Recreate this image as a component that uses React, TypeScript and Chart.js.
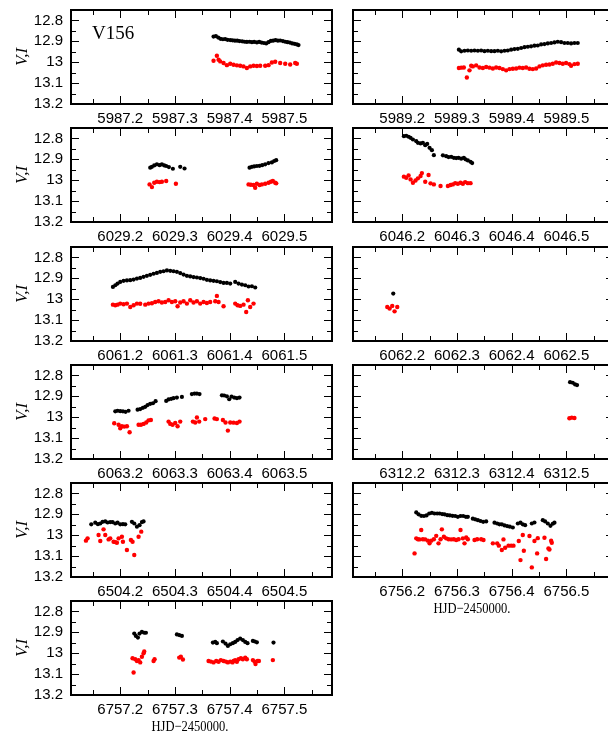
import React, { useEffect, useRef } from "react";
import { Chart, registerables } from "chart.js";
Chart.register(...registerables);

// ---------- data (HJD-2450000, magnitudes) ----------
const vT5987 = [5987.3705,5987.3748,5987.3791,5987.3833,5987.3876,5987.3918,5987.3961,5987.4010,5987.4052,5987.4095,5987.4138,5987.4180,5987.4229,5987.4272,5987.4314,5987.4363,5987.4406,5987.4448,5987.4497,5987.4540,5987.4582,5987.4625,5987.4667,5987.4710,5987.4753,5987.4795,5987.4838,5987.4881,5987.4923,5987.4972,5987.5015,5987.5057,5987.5100,5987.5143,5987.5185,5987.5228,5987.5258];
const vM5987 = [12.877,12.875,12.882,12.888,12.890,12.889,12.893,12.894,12.895,12.897,12.897,12.899,12.900,12.902,12.903,12.902,12.904,12.903,12.905,12.903,12.906,12.908,12.910,12.904,12.898,12.897,12.894,12.897,12.896,12.899,12.902,12.904,12.906,12.910,12.912,12.915,12.918];
const iT5987 = [5987.3705,5987.3766,5987.3797,5987.3827,5987.3888,5987.3949,5987.4010,5987.4071,5987.4132,5987.4192,5987.4253,5987.4314,5987.4375,5987.4436,5987.4497,5987.4558,5987.4649,5987.4710,5987.4771,5987.4832,5987.4923,5987.5015,5987.5106,5987.5197,5987.5228];
const iM5987 = [12.993,12.969,12.988,12.996,13.004,13.014,13.007,13.012,13.015,13.017,13.020,13.028,13.020,13.017,13.018,13.017,13.017,13.014,13.001,12.998,13.004,13.007,13.011,13.004,13.007];

const vT5989 = [5989.3035,5989.3077,5989.3138,5989.3199,5989.3260,5989.3321,5989.3382,5989.3442,5989.3503,5989.3564,5989.3625,5989.3686,5989.3747,5989.3808,5989.3869,5989.3929,5989.3990,5989.4051,5989.4112,5989.4173,5989.4234,5989.4295,5989.4355,5989.4416,5989.4477,5989.4538,5989.4599,5989.4660,5989.4721,5989.4782,5989.4842,5989.4903,5989.4964,5989.5025,5989.5086,5989.5147,5989.5208];
const vM5989 = [12.940,12.948,12.945,12.944,12.945,12.944,12.945,12.944,12.947,12.945,12.947,12.947,12.945,12.948,12.945,12.944,12.940,12.937,12.936,12.932,12.928,12.926,12.924,12.921,12.920,12.915,12.913,12.910,12.908,12.905,12.902,12.904,12.908,12.908,12.910,12.908,12.908];
const iT5989 = [5989.3035,5989.3077,5989.3126,5989.3181,5989.3229,5989.3260,5989.3290,5989.3351,5989.3412,5989.3473,5989.3534,5989.3595,5989.3656,5989.3716,5989.3777,5989.3838,5989.3899,5989.3960,5989.4021,5989.4082,5989.4142,5989.4203,5989.4264,5989.4325,5989.4386,5989.4447,5989.4508,5989.4568,5989.4629,5989.4690,5989.4751,5989.4812,5989.4873,5989.4934,5989.4994,5989.5055,5989.5086,5989.5147,5989.5208];
const iM5989 = [13.028,13.026,13.025,13.073,13.039,13.017,13.020,13.015,13.025,13.028,13.023,13.026,13.030,13.025,13.028,13.033,13.039,13.033,13.031,13.030,13.026,13.028,13.025,13.031,13.033,13.030,13.020,13.015,13.012,13.011,13.007,13.001,13.004,13.007,13.004,13.009,13.017,13.009,13.007];

const vT6029 = [6029.2548,6029.2579,6029.2621,6029.2670,6029.2719,6029.2761,6029.2804,6029.2840,6029.2889,6029.2962,6029.3096,6029.3175,6029.4363,6029.4406,6029.4448,6029.4497,6029.4546,6029.4594,6029.4649,6029.4710,6029.4771,6029.4814,6029.4850];
const vM6029 = [12.940,12.936,12.929,12.924,12.928,12.924,12.929,12.932,12.937,12.945,12.936,12.944,12.940,12.936,12.934,12.932,12.931,12.928,12.924,12.918,12.915,12.908,12.904];
const iT6029 = [6029.2536,6029.2579,6029.2621,6029.2670,6029.2719,6029.2761,6029.2840,6029.3017,6029.4345,6029.4387,6029.4436,6029.4466,6029.4497,6029.4546,6029.4588,6029.4649,6029.4710,6029.4753,6029.4789,6029.4832,6029.4850];
const iM6029 = [13.020,13.033,13.012,13.007,13.009,13.007,13.004,13.017,13.020,13.022,13.023,13.036,13.017,13.023,13.020,13.017,13.012,13.007,13.004,13.012,13.015];

const vT6046 = [6046.2030,6046.2073,6046.2116,6046.2152,6046.2195,6046.2256,6046.2286,6046.2335,6046.2377,6046.2420,6046.2456,6046.2499,6046.2542,6046.2578,6046.2743,6046.2803,6046.2846,6046.2895,6046.2943,6046.2986,6046.3029,6046.3077,6046.3126,6046.3156,6046.3199,6046.3248,6046.3278];
const vM6046 = [12.789,12.787,12.792,12.797,12.805,12.813,12.821,12.824,12.821,12.832,12.826,12.845,12.856,12.880,12.881,12.885,12.889,12.888,12.893,12.894,12.893,12.897,12.893,12.900,12.905,12.912,12.918];
const iT6046 = [6046.2030,6046.2073,6046.2116,6046.2152,6046.2195,6046.2243,6046.2286,6046.2335,6046.2359,6046.2420,6046.2481,6046.2517,6046.2578,6046.2700,6046.2834,6046.2883,6046.2925,6046.2968,6046.3016,6046.3065,6046.3108,6046.3150,6046.3199,6046.3248];
const iM6046 = [12.983,12.988,12.977,12.996,13.012,13.001,12.991,12.980,12.966,13.007,12.975,13.015,13.020,13.028,13.028,13.023,13.020,13.014,13.017,13.012,13.017,13.009,13.014,13.014];

const vT6061 = [6061.1866,6061.1909,6061.1951,6061.2000,6061.2061,6061.2122,6061.2183,6061.2244,6061.2305,6061.2365,6061.2426,6061.2487,6061.2548,6061.2609,6061.2670,6061.2731,6061.2792,6061.2853,6061.2914,6061.2974,6061.3035,6061.3096,6061.3157,6061.3218,6061.3279,6061.3340,6061.3401,6061.3462,6061.3523,6061.3583,6061.3644,6061.3705,6061.3766,6061.3827,6061.3888,6061.3949,6061.4010,6061.4101,6061.4162,6061.4223,6061.4284,6061.4345,6061.4406,6061.4467];
const vM6061 = [12.941,12.933,12.925,12.917,12.912,12.910,12.909,12.906,12.901,12.898,12.893,12.888,12.883,12.878,12.874,12.869,12.866,12.862,12.864,12.866,12.869,12.875,12.882,12.888,12.891,12.894,12.896,12.899,12.902,12.907,12.910,12.912,12.914,12.918,12.922,12.922,12.925,12.917,12.925,12.930,12.933,12.939,12.938,12.944];
const iT6061 = [6061.1866,6061.1909,6061.1951,6061.2000,6061.2061,6061.2122,6061.2183,6061.2244,6061.2305,6061.2365,6061.2457,6061.2518,6061.2579,6061.2639,6061.2700,6061.2761,6061.2822,6061.2883,6061.2944,6061.3005,6061.3048,6061.3096,6061.3157,6061.3218,6061.3279,6061.3340,6061.3401,6061.3462,6061.3523,6061.3583,6061.3644,6061.3736,6061.3766,6061.3797,6061.3888,6061.4101,6061.4144,6061.4192,6061.4253,6061.4302,6061.4333,6061.4375,6061.4436];
const iM6061 = [13.026,13.029,13.026,13.021,13.024,13.021,13.037,13.029,13.021,13.022,13.026,13.021,13.019,13.013,13.010,13.016,13.013,13.005,13.013,13.010,13.034,13.016,13.010,13.021,13.005,13.016,13.010,13.021,13.013,13.018,13.013,13.010,12.984,13.013,13.034,13.021,13.029,13.032,13.026,13.061,13.005,13.037,13.021];

const vT6062 = [6062.1836];
const vM6062 = [12.973];
const iT6062 = [6062.1726,6062.1769,6062.1817,6062.1860,6062.1909];
const iM6062 = [13.037,13.045,13.032,13.058,13.037];

const vT6063 = [6063.1909,6063.1951,6063.2000,6063.2049,6063.2097,6063.2152,6063.2317,6063.2365,6063.2414,6063.2457,6063.2499,6063.2548,6063.2597,6063.2646,6063.2840,6063.2883,6063.2932,6063.2974,6063.3035,6063.3127,6063.3309,6063.3358,6063.3401,6063.3449,6063.3858,6063.3900,6063.3949,6063.3991,6063.4034,6063.4083,6063.4132,6063.4180];
const vM6063 = [12.972,12.969,12.971,12.972,12.974,12.969,12.964,12.961,12.955,12.950,12.942,12.936,12.933,12.923,12.922,12.915,12.912,12.909,12.906,12.903,12.889,12.887,12.887,12.889,12.895,12.896,12.900,12.914,12.901,12.906,12.909,12.906];
const iT6063 = [6063.1890,6063.1970,6063.2000,6063.2030,6063.2073,6063.2122,6063.2171,6063.2335,6063.2378,6063.2426,6063.2475,6063.2518,6063.2560,6063.2883,6063.2914,6063.2956,6063.3005,6063.3048,6063.3096,6063.3328,6063.3370,6063.3401,6063.3443,6063.3553,6063.3724,6063.3766,6063.3876,6063.3924,6063.3967,6063.4010,6063.4071,6063.4132,6063.4180];
const iM6063 = [13.029,13.036,13.053,13.043,13.045,13.043,13.072,13.036,13.036,13.032,13.025,13.015,13.013,13.021,13.032,13.036,13.028,13.043,13.021,13.021,13.025,13.001,13.021,13.009,13.006,13.009,13.013,13.025,13.064,13.025,13.026,13.028,13.021];

const vT6312 = [6312.5067,6312.5116,6312.5159,6312.5195];
const vM6312 = [12.832,12.835,12.843,12.846];
const iT6312 = [6312.5055,6312.5098,6312.5147];
const iM6312 = [13.005,13.002,13.004];

const vT6504 = [6504.1470,6504.1543,6504.1592,6504.1635,6504.1677,6504.1726,6504.1769,6504.1817,6504.1860,6504.1909,6504.1951,6504.2000,6504.2049,6504.2091,6504.2213,6504.2256,6504.2305,6504.2353,6504.2396,6504.2426];
const vM6504 = [12.948,12.940,12.947,12.944,12.936,12.934,12.939,12.937,12.937,12.944,12.940,12.948,12.947,12.948,12.936,12.944,12.959,12.952,12.937,12.934];
const iT6504 = [6504.1373,6504.1403,6504.1604,6504.1635,6504.1695,6504.1726,6504.1787,6504.1817,6504.1878,6504.1909,6504.1939,6504.1970,6504.2030,6504.2049,6504.2122,6504.2195,6504.2225,6504.2256,6504.2335,6504.2384];
const iM6504 = [13.026,13.015,12.999,13.028,12.972,12.999,13.020,13.015,13.031,13.033,13.036,13.015,13.007,13.031,13.071,13.023,13.031,13.095,13.007,12.983];

const vT6756 = [6756.2256,6756.2298,6756.2347,6756.2396,6756.2444,6756.2493,6756.2542,6756.2590,6756.2639,6756.2682,6756.2730,6756.2773,6756.2822,6756.2870,6756.2919,6756.2968,6756.3016,6756.3065,6756.3114,6756.3163,6756.3199,6756.3290,6756.3333,6756.3382,6756.3430,6756.3479,6756.3534,6756.3686,6756.3735,6756.3777,6756.3820,6756.3869,6756.3917,6756.3966,6756.4021,6756.4112,6756.4161,6756.4203,6756.4246,6756.4368,6756.4416,6756.4569,6756.4611,6756.4660,6756.4709,6756.4751,6756.4782];
const vM6756 = [12.891,12.900,12.907,12.908,12.905,12.896,12.893,12.896,12.896,12.896,12.899,12.900,12.904,12.905,12.907,12.908,12.912,12.908,12.908,12.912,12.912,12.921,12.924,12.928,12.932,12.936,12.934,12.940,12.944,12.948,12.948,12.953,12.956,12.959,12.963,12.944,12.940,12.948,12.952,12.944,12.939,12.928,12.934,12.944,12.955,12.945,12.940];
const iT6756 = [6756.2225,6756.2256,6756.2286,6756.2316,6756.2347,6756.2377,6756.2420,6756.2469,6756.2499,6756.2530,6756.2578,6756.2621,6756.2663,6756.2700,6756.2724,6756.2761,6756.2803,6756.2846,6756.2895,6756.2943,6756.2986,6756.3029,6756.3065,6756.3108,6756.3138,6756.3169,6756.3199,6756.3321,6756.3369,6756.3442,6756.3485,6756.3656,6756.3735,6756.3765,6756.3820,6756.3850,6756.3881,6756.3942,6756.3990,6756.4033,6756.4130,6756.4161,6756.4203,6756.4222,6756.4325,6756.4368,6756.4416,6756.4465,6756.4477,6756.4599,6756.4629,6756.4672,6756.4690,6756.4721,6756.4733];
const iM6756 = [13.087,13.015,13.019,13.020,12.975,13.019,13.020,13.026,13.039,13.026,13.019,13.003,13.039,13.019,12.972,13.007,13.015,13.019,13.020,13.019,13.023,13.019,12.975,13.015,13.039,13.011,13.019,13.023,13.019,13.019,13.023,13.039,13.039,13.050,13.071,13.020,13.060,13.050,13.050,13.050,13.028,13.119,12.999,13.074,13.004,13.154,13.028,13.087,13.014,13.012,13.114,13.063,13.068,13.026,13.036];

const vT6757 = [6757.2256,6757.2286,6757.2323,6757.2353,6757.2396,6757.2438,6757.2469,6757.3035,6757.3078,6757.3127,6757.3693,6757.3736,6757.3766,6757.3876,6757.3924,6757.3967,6757.4010,6757.4058,6757.4101,6757.4144,6757.4192,6757.4241,6757.4284,6757.4326,6757.4424,6757.4460,6757.4497,6757.4801];
const vM6757 = [12.906,12.917,12.925,12.906,12.898,12.902,12.902,12.910,12.913,12.917,12.949,12.946,12.952,12.944,12.954,12.965,12.957,12.952,12.946,12.937,12.930,12.937,12.946,12.952,12.941,12.944,12.948,12.949];
const iT6757 = [6757.2225,6757.2244,6757.2274,6757.2305,6757.2335,6757.2365,6757.2396,6757.2426,6757.2438,6757.2609,6757.2627,6757.3078,6757.3108,6757.3145,6757.3614,6757.3657,6757.3705,6757.3754,6757.3797,6757.3839,6757.3888,6757.3931,6757.3967,6757.4010,6757.4052,6757.4071,6757.4101,6757.4132,6757.4162,6757.4205,6757.4241,6757.4284,6757.4314,6757.4424,6757.4454,6757.4472,6757.4509,6757.4534,6757.4789];
const iM6757 = [13.024,13.092,13.029,13.037,13.033,13.044,13.017,13.000,12.992,13.037,13.029,13.021,13.017,13.030,13.037,13.040,13.044,13.037,13.041,13.033,13.037,13.040,13.044,13.040,13.044,13.037,13.033,13.041,13.029,13.024,13.029,13.021,13.029,13.033,13.040,13.052,13.037,13.037,13.033];

const yTickLabels = [12.8, 12.9, 13, 13.1, 13.2];
const yMinorTicks = [12.85, 12.95, 13.05, 13.15];
const xMajorOffsets = [0.2, 0.3, 0.4, 0.5];
const xMinorOffsets = [0.15, 0.25, 0.35, 0.45, 0.55];
const yTitle = "V,I";
const xTitle = "HJD\u22122450000.";
const starName = "V156";

// ---------- layout ----------
const ROW_TOPS = [10, 128, 247, 365, 483, 601];
const PLOT_H = 94;
const PLOT_W = 261;
const COL_LEFT = [71, 353];
const PAD_TOP = 20;
const X_AXIS_H = 50;
const CANVAS_H = PAD_TOP + PLOT_H + X_AXIS_H;

type PanelDef = {
  day: number; row: number; col: number;
  vt: number[]; vm: number[]; it: number[]; im: number[];
  name?: boolean; xlabel?: boolean;
};

const panels: PanelDef[] = [
  { day: 5987, row: 0, col: 0, vt: vT5987, vm: vM5987, it: iT5987, im: iM5987, name: true },
  { day: 5989, row: 0, col: 1, vt: vT5989, vm: vM5989, it: iT5989, im: iM5989 },
  { day: 6029, row: 1, col: 0, vt: vT6029, vm: vM6029, it: iT6029, im: iM6029 },
  { day: 6046, row: 1, col: 1, vt: vT6046, vm: vM6046, it: iT6046, im: iM6046 },
  { day: 6061, row: 2, col: 0, vt: vT6061, vm: vM6061, it: iT6061, im: iM6061 },
  { day: 6062, row: 2, col: 1, vt: vT6062, vm: vM6062, it: iT6062, im: iM6062 },
  { day: 6063, row: 3, col: 0, vt: vT6063, vm: vM6063, it: iT6063, im: iM6063 },
  { day: 6312, row: 3, col: 1, vt: vT6312, vm: vM6312, it: iT6312, im: iM6312 },
  { day: 6504, row: 4, col: 0, vt: vT6504, vm: vM6504, it: iT6504, im: iM6504 },
  { day: 6756, row: 4, col: 1, vt: vT6756, vm: vM6756, it: iT6756, im: iM6756, xlabel: true },
  { day: 6757, row: 5, col: 0, vt: vT6757, vm: vM6757, it: iT6757, im: iM6757, xlabel: true },
];

const TICK_FONT = { family: "'Liberation Sans', Arial, sans-serif", size: 15 };

function Panel({ p }: { p: PanelDef }) {
  const ref = useRef<HTMLCanvasElement | null>(null);
  const canvasLeft = p.col === 0 ? 0 : 338;
  const canvasW = p.col === 0 ? 338 : 290;
  const yAxisW = COL_LEFT[p.col] - canvasLeft;
  const padRight = canvasW - yAxisW - PLOT_W;
  const canvasTop = ROW_TOPS[p.row] - PAD_TOP;

  useEffect(() => {
    const day = p.day;
    const framePlugin = {
      id: "frame",
      afterDraw(chart: any) {
        const { ctx, chartArea: a, scales } = chart;
        const xs = scales.x, ys = scales.y;
        ctx.save();
        ctx.strokeStyle = "#000";
        ctx.lineWidth = 1;
        ctx.beginPath();
        const xt = [
          ...xMajorOffsets.map((o) => [day + o, 8]),
          ...xMinorOffsets.map((o) => [day + o, 5]),
        ];
        for (const [v, len] of xt) {
          const px = Math.round(xs.getPixelForValue(v)) + 0.5;
          ctx.moveTo(px, a.bottom); ctx.lineTo(px, a.bottom - len);
          ctx.moveTo(px, a.top); ctx.lineTo(px, a.top + len);
        }
        const yt = [
          ...yTickLabels.map((v) => [v, 8]),
          ...yMinorTicks.map((v) => [v, 5]),
        ];
        for (const [v, len] of yt) {
          const py = Math.round(ys.getPixelForValue(v)) + 0.5;
          ctx.moveTo(a.left, py); ctx.lineTo(a.left + len, py);
          ctx.moveTo(a.right, py); ctx.lineTo(a.right - len, py);
        }
        ctx.stroke();
        ctx.lineWidth = 2;
        ctx.strokeRect(a.left, a.top, a.right - a.left, a.bottom - a.top);
        ctx.fillStyle = "#000";
        if (p.name) {
          ctx.font = "19px 'Liberation Serif', serif";
          ctx.textAlign = "left";
          ctx.textBaseline = "alphabetic";
          ctx.fillText(starName, a.left + 21, a.top + 28.5);
        }
        if (p.xlabel) {
          ctx.font = "15px 'Liberation Serif', serif";
          ctx.textAlign = "center";
          ctx.textBaseline = "middle";
          ctx.fillText(xTitle, a.left + 119, a.bottom + 32, 77);
        }
        ctx.restore();
      },
    };

    const chart = new Chart(ref.current as HTMLCanvasElement, {
      type: "scatter",
      data: {
        datasets: [
          {
            label: "V",
            data: p.vt.map((t, i) => ({ x: t, y: p.vm[i] })),
            backgroundColor: "#000000",
            borderWidth: 0,
            pointRadius: 2.1,
            pointHoverRadius: 2.1,
          },
          {
            label: "I",
            data: p.it.map((t, i) => ({ x: t, y: p.im[i] })),
            backgroundColor: "#ff0000",
            borderWidth: 0,
            pointRadius: 2.2,
            pointHoverRadius: 2.2,
          },
        ],
      },
      options: {
        animation: false,
        responsive: false,
        devicePixelRatio: 1,
        events: [],
        layout: { padding: { top: PAD_TOP, right: padRight, bottom: 0, left: 0 } },
        plugins: { legend: { display: false }, tooltip: { enabled: false } },
        scales: {
          x: {
            type: "linear",
            min: day + 0.11,
            max: day + 0.587,
            afterBuildTicks: (s: any) => {
              s.ticks = xMajorOffsets.map((o) => ({ value: day + o }));
            },
            afterFit: (s: any) => { s.height = X_AXIS_H; },
            ticks: {
              autoSkip: false,
              maxRotation: 0,
              padding: 6,
              color: "#000",
              font: TICK_FONT,
              callback: (v: any) => Number(v).toFixed(1),
            },
            grid: { display: false, drawTicks: false, tickLength: 0 },
            border: { display: false },
          },
          y: {
            type: "linear",
            reverse: true,
            min: 12.75,
            max: 13.2,
            afterBuildTicks: (s: any) => {
              s.ticks = yTickLabels.map((v) => ({ value: v }));
            },
            afterFit: (s: any) => { s.width = yAxisW; },
            ticks: {
              display: p.col === 0,
              padding: 8,
              color: "#000",
              font: TICK_FONT,
              callback: (v: any) => String(Number(Number(v).toFixed(2))),
            },
            title: {
              display: p.col === 0,
              text: yTitle,
              color: "#000",
              font: { family: "'Liberation Serif', serif", size: 17, style: "italic" },
              padding: { top: 12, bottom: 0 },
            },
            grid: { display: false, drawTicks: false, tickLength: 0 },
            border: { display: false },
          },
        },
      },
      plugins: [framePlugin],
    } as any);
    return () => chart.destroy();
  }, []);

  return (
    <canvas
      ref={ref}
      width={canvasW}
      height={CANVAS_H}
      style={{ position: "absolute", left: canvasLeft, top: canvasTop, width: canvasW, height: CANVAS_H }}
    />
  );
}

export default function App() {
  return (
    <div
      style={{
        position: "absolute",
        left: 0,
        top: 0,
        width: 608,
        height: 740,
        overflow: "hidden",
        background: "#ffffff",
      }}
    >
      {panels.map((p) => (
        <Panel key={p.day} p={p} />
      ))}
    </div>
  );
}
